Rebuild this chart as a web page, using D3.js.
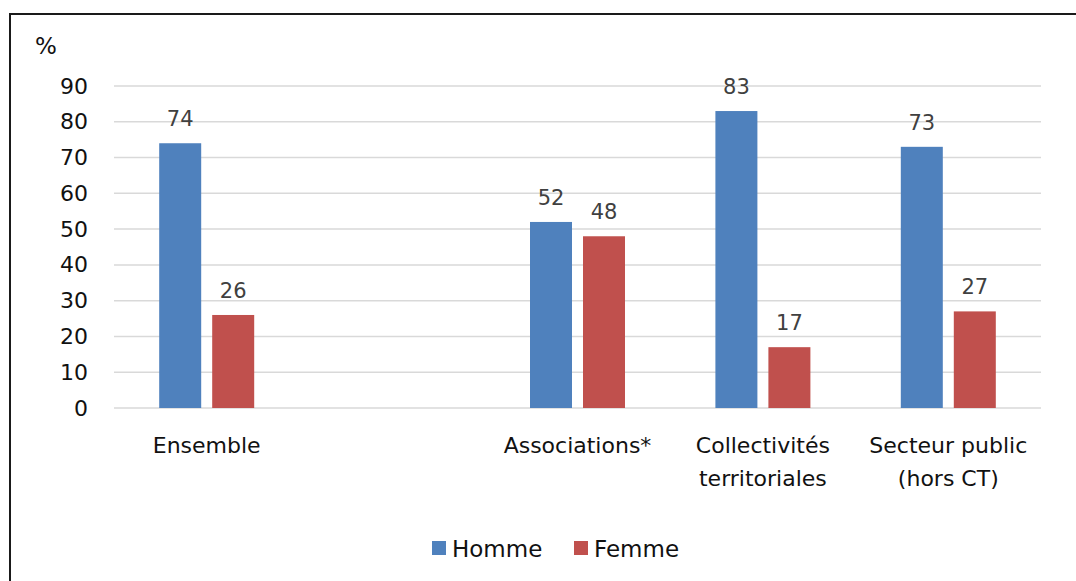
<!DOCTYPE html>
<html>
<head>
<meta charset="utf-8">
<script src="https://cdn.jsdelivr.net/npm/d3@7"></script>
<style>
  html, body { margin: 0; padding: 0; background: #fff; }
  svg { display: block; font-family: "DejaVu Sans", "Noto Sans", sans-serif; }
</style>
</head>
<body>
<svg id="chart" width="1076" height="581"></svg>
<script>
// Share of men and women by employer type (%)
const categories = ["Ensemble", "", "Associations*", "Collectivités territoriales", "Secteur public (hors CT)"];
const categoryLines = [["Ensemble"], [], ["Associations*"], ["Collectivités", "territoriales"], ["Secteur public", "(hors CT)"]];
const series = ["Homme", "Femme"];
const hommeValues = [74, null, 52, 83, 73];
const femmeValues = [26, null, 48, 17, 27];
const yTicks = [0, 10, 20, 30, 40, 50, 60, 70, 80, 90];
const colors = { Homme: "#4f81bd", Femme: "#c0504d" };

const svg = d3.select("#chart");
const W = 1076, H = 581;
const plot = { left: 114, right: 1041, top: 86, bottom: 408 };

// Frame (top and left edges)
svg.append("path")
  .attr("d", `M10,${H} L10,14 L${W},14`)
  .attr("fill", "none").attr("stroke", "#1a1a1a").attr("stroke-width", 2);

const x = d3.scaleBand().domain(categories).range([plot.left, plot.right]).padding(0);
const bw = x.bandwidth();
const x1 = d3.scaleBand().domain(series).range([bw / 2 - 47.5, bw / 2 + 47.5]).paddingInner(11 / 53).paddingOuter(0);
const y = d3.scaleLinear().domain([0, 90]).range([plot.bottom, plot.top]);

// Gridlines
svg.append("g").selectAll("line").data(yTicks).join("line")
  .attr("x1", plot.left).attr("x2", plot.right)
  .attr("y1", d => y(d)).attr("y2", d => y(d))
  .attr("stroke", "#d9d9d9").attr("stroke-width", 1.5);

// Y axis labels
const yAxis = d3.axisLeft(y).tickValues(yTicks).tickSize(0).tickPadding(0);
const gy = svg.append("g").attr("transform", "translate(88,0)").call(yAxis);
gy.select(".domain").remove();
gy.selectAll("text").attr("font-size", 22).attr("fill", "#111").attr("font-family", "DejaVu Sans, sans-serif");

svg.append("text").attr("x", 35).attr("y", 54).attr("font-size", 23).attr("fill", "#111").text("%");

// Bars
const rows = categories.map((c, i) => ({ cat: c, Homme: hommeValues[i], Femme: femmeValues[i] }));
const groups = svg.append("g").selectAll("g").data(rows.filter(r => r.Homme != null)).join("g")
  .attr("transform", d => `translate(${x(d.cat)},0)`);

groups.selectAll("rect").data(d => series.map(s => ({ s, v: d[s] }))).join("rect")
  .attr("x", d => x1(d.s)).attr("width", x1.bandwidth())
  .attr("y", d => y(d.v)).attr("height", d => y(0) - y(d.v))
  .attr("fill", d => colors[d.s]);

groups.selectAll("text.val").data(d => series.map(s => ({ s, v: d[s] }))).join("text")
  .attr("class", "val")
  .attr("x", d => x1(d.s) + x1.bandwidth() / 2)
  .attr("y", d => y(d.v) - 17)
  .attr("text-anchor", "middle").attr("font-size", 21).attr("fill", "#404040")
  .text(d => d.v);

// Category labels
const gx = svg.append("g").selectAll("text").data(categories.map((c, i) => ({ c, lines: categoryLines[i] }))).join("text")
  .attr("x", d => x(d.c) + bw / 2)
  .attr("y", 453)
  .attr("text-anchor", "middle").attr("font-size", 22).attr("fill", "#111");
gx.selectAll("tspan").data(d => d.lines.map((l, j) => ({ l, j, cx: x(d.c) + bw / 2 }))).join("tspan")
  .attr("x", d => d.cx).attr("dy", d => d.j === 0 ? 0 : 33).text(d => d.l);

// Legend
const legend = svg.append("g");
const legendItems = [{ s: "Homme", x: 432 }, { s: "Femme", x: 574 }];
legend.selectAll("rect").data(legendItems).join("rect")
  .attr("x", d => d.x).attr("y", 541).attr("width", 14).attr("height", 14)
  .attr("fill", d => colors[d.s]);
legend.selectAll("text").data(legendItems).join("text")
  .attr("x", d => d.x + 20).attr("y", 557).attr("font-size", 23).attr("fill", "#111")
  .text(d => d.s);
</script>
</body>
</html>
